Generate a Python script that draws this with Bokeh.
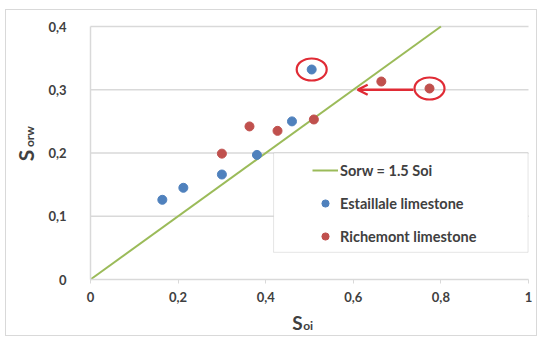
from bokeh.plotting import figure
from bokeh.models import (Range1d, Label, Arrow, OpenHead, Legend, LegendItem,
                          BoxAnnotation, FixedTicker, CustomJSTickFormatter)
from bokeh.embed import file_html
from bokeh.resources import INLINE
import math

# ---- data ----
x_ticks = [0, 0.2, 0.4, 0.6, 0.8, 1]
y_ticks = [0, 0.1, 0.2, 0.3, 0.4]

est_x = [0.164, 0.212, 0.30, 0.38, 0.46, 0.505]
est_y = [0.126, 0.145, 0.166, 0.197, 0.25, 0.332]
rich_x = [0.30, 0.363, 0.427, 0.51, 0.664, 0.774]
rich_y = [0.199, 0.242, 0.235, 0.253, 0.313, 0.302]

line_x = [0, 0.8]
line_y = [0, 0.4]

circled_x = [est_x[5], rich_x[5]]
circled_y = [est_y[5], rich_y[5]]

arrow_x = [0.737, 0.61]
arrow_y = [0.30, 0.30]

FONT = "Lato"
TXT = "#404040"

W, H = 532, 327
# frame spans the whole canvas; axes are pinned at 0 so titles can sit inside the frame
px_x = 438.0   # pixels per x unit
px_y = 632.5   # pixels per y unit
x0_px, y0_px = 84, 269   # canvas position of the data origin
p = figure(width=W, height=H, output_backend="svg", toolbar_location=None,
           x_range=Range1d(-x0_px / px_x, (W - x0_px) / px_x),
           y_range=Range1d(-(H - y0_px) / px_y, y0_px / px_y),
           min_border=0)
p.styles = {"margin-left": "5px", "margin-top": "9px", "border": "1px solid #d9d9d9"}
p.outline_line_color = None
p.background_fill_color = "white"
p.border_fill_color = "white"

p.xgrid.grid_line_color = None
p.ygrid.grid_line_color = None

# horizontal gridlines limited to the plotting area
p.segment(x0=[x_ticks[0]] * (len(y_ticks) - 1), x1=[x_ticks[-1]] * (len(y_ticks) - 1),
          y0=y_ticks[1:], y1=y_ticks[1:], line_color="#d9d9d9", line_width=1.5)

fmt = CustomJSTickFormatter(code="var s = (Math.round(tick*10)/10).toString(); return s.replace('.', ',');")

p.xaxis.ticker = FixedTicker(ticks=x_ticks)
p.yaxis.ticker = FixedTicker(ticks=y_ticks)
p.xaxis.fixed_location = 0
p.yaxis.fixed_location = 0
p.xaxis.bounds = (x_ticks[0], x_ticks[-1])
p.yaxis.bounds = (y_ticks[0], y_ticks[-1])
for ax in (p.xaxis[0], p.yaxis[0]):
    ax.formatter = fmt
    ax.axis_line_color = "#d9d9d9"
    ax.axis_line_width = 1.5
    ax.minor_tick_line_color = None
    ax.major_label_text_font = FONT
    ax.major_label_text_font_style = "bold"
    ax.major_label_text_font_size = "13px"
    ax.major_label_text_color = TXT
p.xaxis.major_tick_line_color = "#d9d9d9"
p.xaxis.major_tick_out = 4
p.xaxis.major_tick_in = 0
p.xaxis.major_label_standoff = 8
p.yaxis.major_tick_line_color = None
p.yaxis.major_label_standoff = 18

r_line = p.line(line_x, line_y, line_color="#9bbb59", line_width=2)
r_est = p.scatter(est_x, est_y, size=9, fill_color="#4f81bd", line_color="#4f81bd")
r_rich = p.scatter(rich_x, rich_y, size=9, fill_color="#c0504d", line_color="#c0504d")

p.ellipse(circled_x, circled_y, width=30, height=22, width_units="screen", height_units="screen",
          fill_color=None, line_color="#e02b35", line_width=2.2)

p.add_layout(Arrow(end=OpenHead(size=10, line_color="#e02b35", line_width=2.5),
                   x_start=arrow_x[0], y_start=arrow_y[0], x_end=arrow_x[1], y_end=arrow_y[1],
                   line_color="#e02b35", line_width=2.5))

# legend frame
p.add_layout(BoxAnnotation(left=0.418, right=0.999, bottom=0.043, top=0.2,
                           fill_color="white", fill_alpha=1, line_color="#a6a6a6", line_width=1,
                           level="annotation"))

legend = Legend(items=[LegendItem(label="Sorw = 1.5 Soi", renderers=[r_line]),
                       LegendItem(label="Estaillale limestone", renderers=[r_est]),
                       LegendItem(label="Richemont limestone", renderers=[r_rich])],
                location=(306, 92), padding=0, margin=0, spacing=15,
                glyph_width=26, glyph_height=18, label_height=18, label_standoff=2,
                border_line_color=None, background_fill_alpha=0,
                label_text_font=FONT, label_text_font_style="bold",
                label_text_font_size="14.5px", label_text_color=TXT)
p.add_layout(legend)

# axis titles with subscripts
p.add_layout(Label(x=0.4726, y=-0.0675, text="S", text_align="center", text_baseline="middle",
                   text_font=FONT, text_font_style="bold", text_font_size="19px", text_color=TXT))
p.add_layout(Label(x=0.4855, y=-0.0735, text="oi", text_align="left", text_baseline="middle",
                   text_font=FONT, text_font_style="bold", text_font_size="12px", text_color=TXT))
p.add_layout(Label(x=-0.148, y=0.196, text="S", angle=math.pi / 2, text_align="center",
                   text_baseline="middle", text_font=FONT, text_font_style="bold",
                   text_font_size="21px", text_color=TXT))
p.add_layout(Label(x=-0.139, y=0.226, text="orw", angle=math.pi / 2, text_align="center",
                   text_baseline="middle", text_font=FONT, text_font_style="bold",
                   text_font_size="12px", text_color=TXT))

open("out.html", "w").write(file_html(p, INLINE))
